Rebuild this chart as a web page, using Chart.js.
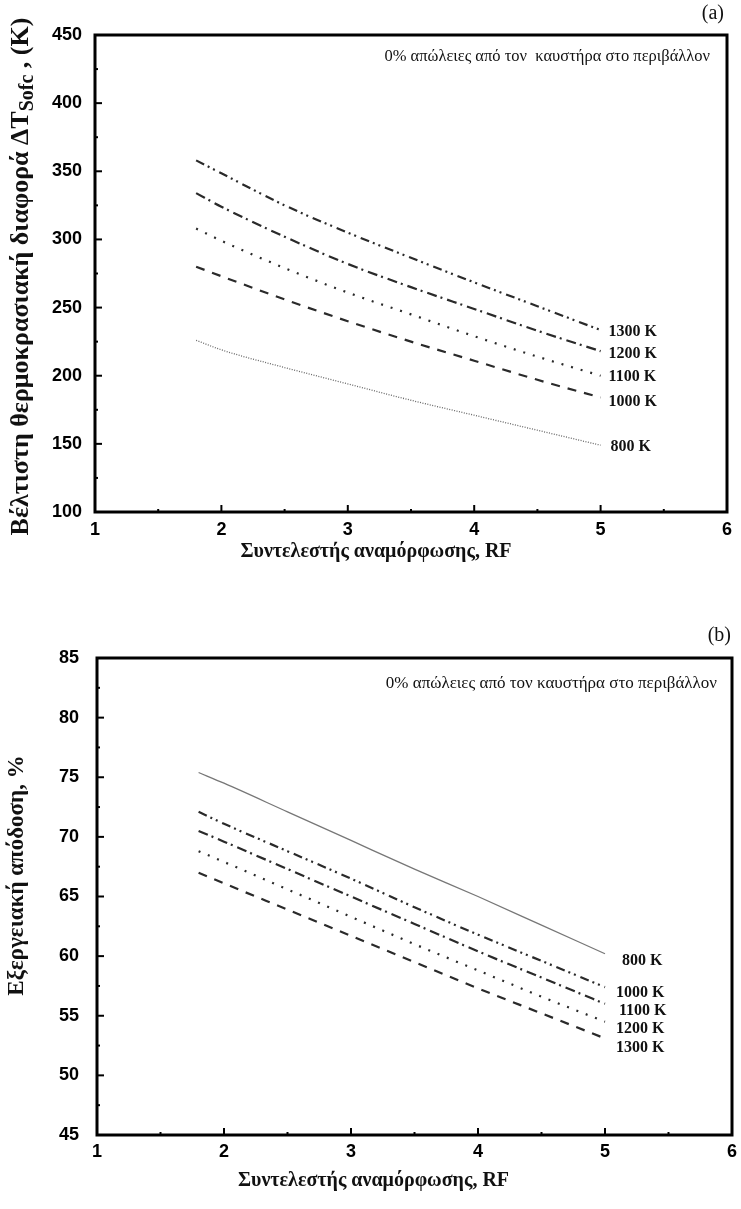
<!DOCTYPE html>
<html><head><meta charset="utf-8">
<script src="https://cdn.jsdelivr.net/npm/chart.js@4.4.0/dist/chart.umd.min.js"></script>
<style>
html,body{margin:0;padding:0;background:#fff;}
#wrap{position:relative;width:741px;height:1209px;overflow:hidden;}
.box{position:absolute;left:0;width:741px;}
</style></head><body>
<div id="wrap">
<div class="box" style="top:0;height:600px"><canvas id="ca"></canvas></div>
<div class="box" style="top:600px;height:609px"><canvas id="cb"></canvas></div>
</div>
<script>
// ---------- data ----------
const rf = [1.8, 2, 2.5, 3, 3.5, 4, 4.5, 5];

// (a) optimal temperature difference ΔT_Sofc (K)
const labelsA = ['1300 K', '1200 K', '1100 K', '1000 K', '800 K'];
const a1300 = [358, 348.5, 325, 305, 286.5, 268.5, 251, 233.5];
const a1200 = [334, 324, 302, 282, 265, 249, 233, 218];
const a1100 = [308, 299, 279, 261, 245, 229, 214, 200];
const a1000 = [280, 273, 256, 240, 225, 211, 197, 184];
const a800  = [226, 219, 206, 194, 182, 171, 160, 149];

// (b) exergy efficiency (%)
const labelsB = ['800 K', '1000 K', '1100 K', '1200 K', '1300 K'];
const b800  = [75.4, 74.5, 72.1, 69.7, 67.3, 65.0, 62.6, 60.2];
const b1000 = [72.1, 71.1, 68.8, 66.5, 64.1, 61.8, 59.6, 57.4];
const b1100 = [70.5, 69.6, 67.3, 65.0, 62.7, 60.4, 58.2, 56.0];
const b1200 = [68.8, 67.9, 65.6, 63.3, 61.0, 58.8, 56.6, 54.5];
const b1300 = [67.0, 66.1, 63.9, 61.7, 59.5, 57.3, 55.2, 53.1];

const xTicksA = [1, 2, 3, 4, 5, 6];
const yTicksA = [100, 150, 200, 250, 300, 350, 400, 450];
const yTicksB = [45, 50, 55, 60, 65, 70, 75, 80, 85];

const noteText = '0% απώλειες από τον  καυστήρα στο περιβάλλον';
const noteTextB = '0% απώλειες από τον καυστήρα στο περιβάλλον';
const xTitle = 'Συντελεστής αναμόρφωσης, RF';

// ---------- helpers ----------
const pts = (ys) => rf.map((x, i) => ({x, y: ys[i]}));
const DARK = '#2a2a2a';
const DDOT = [9, 4, 2, 4, 2, 5];
const DDASHDOT = [10, 4, 2, 5];
const DDOTTED = [2, 8];
const DDASH = [9, 8];

function mkDs(label, ys, style) {
  return Object.assign({
    label, data: pts(ys), borderColor: DARK, borderWidth: 2.2, pointRadius: 0,
    fill: false, cubicInterpolationMode: 'monotone', endDx: 8, endDy: 2
  }, style);
}

const deco = {
  id: 'deco',
  afterDraw(chart, args, o) {
    const {ctx, chartArea: a, scales: {x, y}} = chart;
    ctx.save();
    ctx.strokeStyle = '#000';
    ctx.lineWidth = 2;
    x.ticks.forEach(t => {
      const p = x.getPixelForValue(t.value);
      const L = Number.isInteger(t.value) ? 7 : 3;
      ctx.beginPath(); ctx.moveTo(p, a.bottom); ctx.lineTo(p, a.bottom - L); ctx.stroke();
    });
    y.ticks.forEach(t => {
      const p = y.getPixelForValue(t.value);
      const L = (Math.abs(t.value % o.yMajor) < 1e-9) ? 7 : 3;
      ctx.beginPath(); ctx.moveTo(a.left, p); ctx.lineTo(a.left + L, p); ctx.stroke();
    });
    ctx.lineWidth = 3;
    ctx.strokeRect(a.left, a.top, a.right - a.left, a.bottom - a.top);

    // end labels
    ctx.fillStyle = '#111';
    ctx.font = 'bold 16px "Liberation Serif"';
    ctx.textBaseline = 'middle';
    ctx.textAlign = 'left';
    chart.data.datasets.forEach((ds, i) => {
      const meta = chart.getDatasetMeta(i);
      const pt = meta.data[meta.data.length - 1];
      ctx.fillText(ds.label, pt.x + ds.endDx, pt.y + ds.endDy);
    });

    // note
    ctx.font = o.noteFont;
    ctx.textAlign = 'right';
    ctx.fillText(o.note, a.right - o.noteDx, a.top + o.noteDy);

    // panel letter
    ctx.font = '20px "Liberation Serif"';
    ctx.textAlign = 'right';
    ctx.fillText(o.panel, a.right - o.panelDx, a.top - o.panelDy);

    // x title
    ctx.font = 'bold 20px "Liberation Serif"';
    ctx.textAlign = 'center';
    ctx.fillText(xTitle, (a.left + a.right) / 2 + o.xTitleDx, a.bottom + o.xTitleDy);

    // y title (rotated, optional subscript)
    ctx.save();
    ctx.translate(o.yTitleX, (a.top + a.bottom) / 2 + o.yTitleDy);
    ctx.rotate(-Math.PI / 2);
    ctx.textAlign = 'left';
    ctx.textBaseline = 'middle';
    const parts = o.yTitle;
    let total = 0;
    parts.forEach(p => { ctx.font = p.font; total += ctx.measureText(p.t).width; });
    let cx = -total / 2;
    parts.forEach(p => {
      ctx.font = p.font;
      ctx.fillText(p.t, cx, p.dy || 0);
      cx += ctx.measureText(p.t).width;
    });
    ctx.restore();
    ctx.restore();
  }
};

const tickFont = {family: '"Liberation Sans", Arial, sans-serif', size: 18, weight: 'bold'};

function makeChart(id, datasets, cfg) {
  return new Chart(document.getElementById(id), {
    type: 'line',
    data: {datasets},
    options: {
      responsive: true, maintainAspectRatio: false, animation: false,
      layout: {padding: {left: 0, right: cfg.padRight, top: cfg.padTop, bottom: 0}},
      plugins: {legend: {display: false}, tooltip: {enabled: false}, deco: cfg.deco},
      scales: {
        x: {
          type: 'linear', min: 1, max: 6,
          grid: {display: false, drawTicks: false}, border: {display: false},
          ticks: {stepSize: 0.5, color: '#000', font: tickFont, padding: cfg.xPad, maxRotation: 0,
            autoSkip: false,
            callback: v => xTicksA.includes(v) ? String(v) : ''},
          afterFit: s => { s.height = cfg.xHeight; s.paddingLeft = 0; s.paddingRight = 0; }
        },
        y: {
          type: 'linear', min: cfg.yMin, max: cfg.yMax,
          grid: {display: false, drawTicks: false}, border: {display: false},
          ticks: {stepSize: cfg.yStep, color: '#000', font: tickFont, padding: cfg.yPad, autoSkip: false,
            callback: v => cfg.yLabels.includes(v) ? String(v) : ''},
          afterFit: s => { s.width = cfg.yWidth; s.paddingTop = 0; s.paddingBottom = 0; }
        }
      }
    },
    plugins: [deco]
  });
}

// ---------- chart (a) ----------
makeChart('ca', [
  mkDs(labelsA[0], a1300, {borderDash: DDOT, endDy: 2}),
  mkDs(labelsA[1], a1200, {borderDash: DDASHDOT, endDy: 3}),
  mkDs(labelsA[2], a1100, {borderDash: DDOTTED, endDy: 1}),
  mkDs(labelsA[3], a1000, {borderDash: DDASH, endDy: 4}),
  mkDs(labelsA[4], a800,  {borderDash: [1, 1.5], borderWidth: 1.3, borderColor: '#666', endDx: 10, endDy: 2})
], {
  padRight: 14, padTop: 35, xHeight: 88, yWidth: 95, xPad: 7, yPad: 13,
  yMin: 100, yMax: 450, yStep: 25, yLabels: yTicksA,
  deco: {
    yMajor: 50, note: noteText, noteFont: '16.5px "Liberation Serif"', noteDx: 17, noteDy: 22,
    panel: '(a)', panelDx: 3, panelDy: 21, xTitleDx: -35, xTitleDy: 40,
    yTitleX: 21, yTitleDy: 3,
    yTitle: [
      {t: 'Βέλτιστη θερμοκρασιακή διαφορά ΔT', font: 'bold 26px "Liberation Serif"'},
      {t: 'Sofc', font: 'bold 20px "Liberation Serif"', dy: 7},
      {t: ' , (K)', font: 'bold 26px "Liberation Serif"'}
    ]
  }
});

// ---------- chart (b) ----------
makeChart('cb', [
  mkDs(labelsB[0], b800,  {borderDash: [], borderWidth: 1.3, borderColor: '#777', endDx: 17, endDy: 7}),
  mkDs(labelsB[1], b1000, {borderDash: DDOT, endDx: 11, endDy: 6}),
  mkDs(labelsB[2], b1100, {borderDash: DDASHDOT, endDx: 14, endDy: 7}),
  mkDs(labelsB[3], b1200, {borderDash: DDOTTED, endDx: 11, endDy: 7}),
  mkDs(labelsB[4], b1300, {borderDash: DDASH, endDx: 11, endDy: 9})
], {
  padRight: 9, padTop: 58, xHeight: 74, yWidth: 97, xPad: 6, yPad: 18,
  yMin: 45, yMax: 85, yStep: 2.5, yLabels: yTicksB,
  deco: {
    yMajor: 5, note: noteTextB, noteFont: '17px "Liberation Serif"', noteDx: 15, noteDy: 26,
    panel: '(b)', panelDx: 1, panelDy: 22, xTitleDx: -41, xTitleDy: 46,
    yTitleX: 17, yTitleDy: -21,
    yTitle: [
      {t: 'Εξεργειακή απόδοση, %', font: 'bold 23px "Liberation Serif"'}
    ]
  }
});
</script>
</body></html>
